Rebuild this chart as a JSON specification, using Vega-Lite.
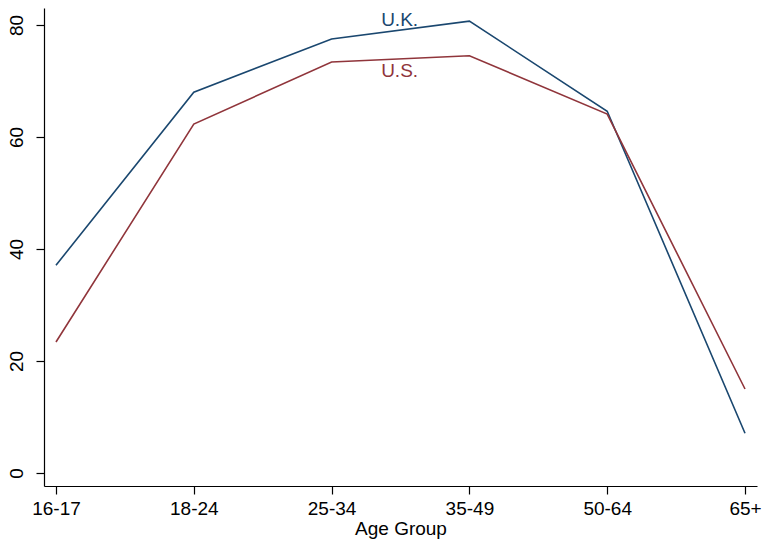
{
  "$schema": "https://vega.github.io/schema/vega-lite/v6.json",
  "autosize": {"type": "none"},
  "width": 713,
  "height": 478,
  "padding": {"left": 44, "top": 8, "right": 7, "bottom": 53},
  "background": "white",
  "config": {
    "view": {"stroke": null},
    "font": "Liberation Sans",
    "axis": {
      "grid": false,
      "domainColor": "black",
      "domainWidth": 1.2,
      "tickColor": "black",
      "tickWidth": 1.2,
      "tickSize": 8,
      "labelColor": "black",
      "labelFont": "Liberation Sans",
      "labelFontSize": 19,
      "titleFont": "Liberation Sans",
      "titleFontSize": 19,
      "titleFontWeight": "normal",
      "titleColor": "black"
    }
  },
  "layer": [
    {
      "data": {
        "values": [
          {"age": "16-17", "series": "U.K.", "value": 37.1},
          {"age": "18-24", "series": "U.K.", "value": 68.0},
          {"age": "25-34", "series": "U.K.", "value": 77.5},
          {"age": "35-49", "series": "U.K.", "value": 80.7},
          {"age": "50-64", "series": "U.K.", "value": 64.6},
          {"age": "65+", "series": "U.K.", "value": 7.1},
          {"age": "16-17", "series": "U.S.", "value": 23.4},
          {"age": "18-24", "series": "U.S.", "value": 62.3},
          {"age": "25-34", "series": "U.S.", "value": 73.4},
          {"age": "35-49", "series": "U.S.", "value": 74.5},
          {"age": "50-64", "series": "U.S.", "value": 64.1},
          {"age": "65+", "series": "U.S.", "value": 15.0}
        ]
      },
      "mark": {"type": "line", "strokeWidth": 1.6},
      "encoding": {
        "x": {
          "field": "age",
          "type": "ordinal",
          "sort": ["16-17", "18-24", "25-34", "35-49", "50-64", "65+"],
          "scale": {"type": "point", "padding": 0.087},
          "axis": {"title": "Age Group", "labelAngle": 0, "labelPadding": 5, "titlePadding": 1}
        },
        "y": {
          "field": "value",
          "type": "quantitative",
          "scale": {"domain": [-2.32, 83.04], "nice": false, "zero": false},
          "axis": {"title": null, "values": [0, 20, 40, 60, 80], "labelAngle": -90, "labelAlign": "center", "labelBaseline": "bottom", "labelPadding": 10}
        },
        "color": {
          "field": "series",
          "type": "nominal",
          "scale": {"domain": ["U.K.", "U.S."], "range": ["#1a476f", "#90353b"]},
          "legend": null
        }
      }
    },
    {
      "data": {"values": [{"label": "U.K.", "age": "25-34", "pos": 80.9}]},
      "mark": {"type": "text", "fontSize": 19, "dx": 68, "align": "center", "baseline": "middle", "color": "#1a476f"},
      "encoding": {
        "x": {"field": "age", "type": "ordinal"},
        "y": {"field": "pos", "type": "quantitative"},
        "text": {"field": "label"}
      }
    },
    {
      "data": {"values": [{"label": "U.S.", "age": "25-34", "pos": 71.8}]},
      "mark": {"type": "text", "fontSize": 19, "dx": 68, "align": "center", "baseline": "middle", "color": "#90353b"},
      "encoding": {
        "x": {"field": "age", "type": "ordinal"},
        "y": {"field": "pos", "type": "quantitative"},
        "text": {"field": "label"}
      }
    }
  ]
}
